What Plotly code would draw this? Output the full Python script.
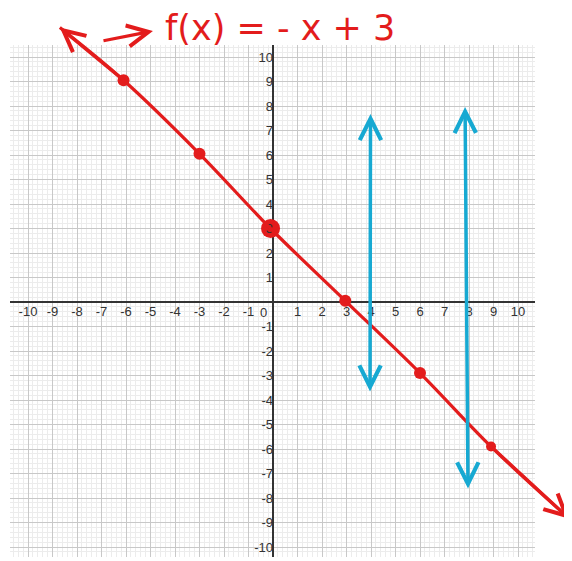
""" hand-annotated graph of f(x) = -x + 3 on graph paper """

import plotly.graph_objects as go

# page size and where the printed grid sits on it (pixels)
PAGE_W, PAGE_H = 572, 561
BODY_MARGIN = 8          # browser default margin round the plot div
GRID_LEFT, GRID_RIGHT, GRID_TOP, GRID_BOTTOM = 10, 535, 45, 557
ORIGIN_PX = (273, 302)
UNIT = 24.5

RED = "#e31c1c"
BLUE = "#17a9d2"

tick_vals = list(range(-10, 11))
x_tick_text = ["" if v == 0 else str(v) for v in tick_vals]
y_tick_text = ["" if v == 0 else str(v) for v in tick_vals]

# hand drawn red line
red_x = [-8.7, -6.1, -3.0, -0.1, 2.95, 6.0, 8.9, 12.1]
red_y = [11.2, 9.05, 6.05, 3.0, 0.05, -2.9, -5.9, -8.85]

# plotted points
dot_x = [-6.1, -3.0, -0.1, 2.95, 6.0, 8.9]
dot_y = [9.05, 6.05, 3.0, 0.05, -2.9, -5.9]
dot_size = [12, 12, 19, 12, 12, 10]

# vertical line test arrows: top tip, bottom tip
blue_top_x = [3.98, 7.84]
blue_top_y = [7.67, 7.96]
blue_bottom_x = [3.96, 7.96]
blue_bottom_y = [-3.71, -7.67]

# small arrow pointing at the formula
pointer_tail = (-6.98, 10.65)
pointer_head = (-4.9, 11.06)
formula = "f(x) = - x + 3"
formula_pos = (0.3, 11.2)

# figure pixels = page pixels shifted by the body margin
W, H = PAGE_W - BODY_MARGIN, PAGE_H - BODY_MARGIN
gl, gr = GRID_LEFT - BODY_MARGIN, GRID_RIGHT - BODY_MARGIN
gt, gb = GRID_TOP - BODY_MARGIN, GRID_BOTTOM - BODY_MARGIN
ox, oy = ORIGIN_PX[0] - BODY_MARGIN, ORIGIN_PX[1] - BODY_MARGIN

x_range = [(gl - ox) / UNIT, (gr - ox) / UNIT]
y_range = [(oy - gb) / UNIT, (oy - gt) / UNIT]
x2_range = [-ox / UNIT, (W - ox) / UNIT]
y2_range = [(oy - H) / UNIT, oy / UNIT]

fig = go.Figure()

fig.add_trace(go.Scatter(
    x=dot_x, y=dot_y, mode="markers", xaxis="x", yaxis="y",
    marker={"color": RED, "size": dot_size, "opacity": 1, "line": {"width": 0}},
    hoverinfo="skip", showlegend=False
))
fig.add_trace(go.Scatter(
    x=red_x, y=red_y, mode="lines", xaxis="x2", yaxis="y2",
    line={"color": RED, "width": 3.2, "shape": "spline"},
    hoverinfo="skip", showlegend=False
))

annotations = []
# arrow heads on both ends of the red line
for tip, back in ((0, 1), (-1, -2)):
    annotations.append(dict(
        x=red_x[tip], y=red_y[tip], ax=red_x[back], ay=red_y[back],
        xref="x2", yref="y2", axref="x2", ayref="y2", text="",
        showarrow=True, arrowhead=5, arrowsize=1.3, arrowwidth=3.2,
        arrowcolor=RED
    ))
for xt, yt, xb, yb in zip(blue_top_x, blue_top_y, blue_bottom_x, blue_bottom_y):
    annotations.append(dict(
        x=xt, y=yt, ax=xb, ay=yb,
        xref="x2", yref="y2", axref="x2", ayref="y2", text="",
        showarrow=True, arrowside="end+start", arrowhead=5, startarrowhead=5,
        arrowsize=1.2, startarrowsize=1.2, arrowwidth=3.5, arrowcolor=BLUE
    ))
annotations.append(dict(
    x=pointer_head[0], y=pointer_head[1], ax=pointer_tail[0], ay=pointer_tail[1],
    xref="x2", yref="y2", axref="x2", ayref="y2", text="",
    showarrow=True, arrowhead=5, arrowsize=1.3, arrowwidth=3.2, arrowcolor=RED
))
annotations.append(dict(
    x=formula_pos[0], y=formula_pos[1], xref="x2", yref="y2", text=formula,
    showarrow=False, xanchor="center", yanchor="middle",
    font={"family": "DejaVu Sans, sans-serif", "size": 35, "color": RED}
))
# the origin label sits just left of the y axis
annotations.append(dict(
    x=-0.4, y=0, xref="x", yref="y", text="0", showarrow=False,
    yanchor="top", yshift=-1,
    font={"family": "Liberation Sans, Arial", "size": 13, "color": "#333"}
))

axis_common = dict(
    tickmode="array", tickvals=tick_vals, ticks="",
    showgrid=True, gridcolor="#c8c8c8", gridwidth=1,
    minor={"tickmode": "linear", "tick0": 0, "dtick": 0.2,
           "showgrid": True, "gridcolor": "#ececec", "gridwidth": 1},
    zeroline=True, zerolinecolor="#333", zerolinewidth=1.5,
    showline=False, anchor="free", fixedrange=True,
    tickfont={"family": "Liberation Sans, Arial", "size": 13, "color": "#333"}
)

fig.update_layout(
    width=W, height=H, autosize=False,
    margin={"l": 0, "r": 0, "t": 0, "b": 0},
    paper_bgcolor="white", plot_bgcolor="rgba(0,0,0,0)",
    showlegend=False,
    xaxis=dict(axis_common, domain=[gl / W, gr / W], range=x_range,
               ticktext=x_tick_text, position=1 - oy / H),
    yaxis=dict(axis_common, domain=[1 - gb / H, 1 - gt / H], range=y_range,
               ticktext=y_tick_text, position=ox / W),
    xaxis2=dict(domain=[0, 1], range=x2_range, anchor="y2", visible=False),
    yaxis2=dict(domain=[0, 1], range=y2_range, anchor="x2", visible=False),
    annotations=annotations
)

fig.write_html("out.html")
